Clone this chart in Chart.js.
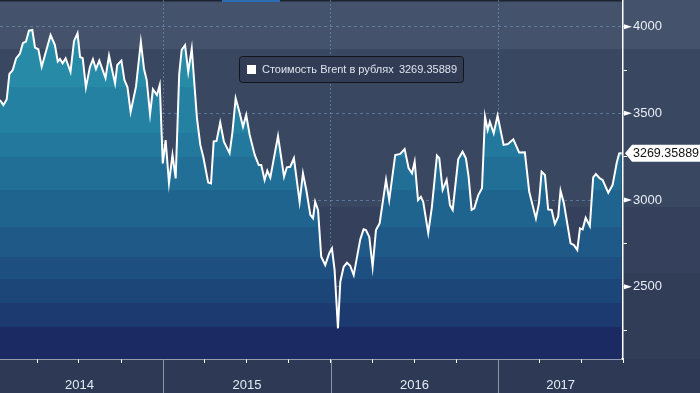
<!DOCTYPE html>
<html>
<head>
<meta charset="utf-8">
<script src="https://cdn.jsdelivr.net/npm/chart.js@4.4.1/dist/chart.umd.min.js"></script>
<style>
  html, body { margin: 0; padding: 0; background: #2e3a55; overflow: hidden; }
</style>
</head>
<body>
<canvas id="brentChart" width="700" height="393"></canvas>
<script>
// Данные: стоимость Brent в рублях (неделя -> дробный год)
const seriesName = "Стоимость Brent в рублях";
const dates = [
  2014.025, 2014.045, 2014.065, 2014.081, 2014.101, 2014.121, 2014.144, 2014.162, 2014.180, 2014.198,
  2014.218, 2014.234, 2014.254, 2014.274, 2014.327, 2014.353, 2014.370, 2014.383, 2014.399, 2014.417,
  2014.446, 2014.467, 2014.488, 2014.503, 2014.519, 2014.538, 2014.562, 2014.580, 2014.598, 2014.618,
  2014.655, 2014.676, 2014.690, 2014.712, 2014.725, 2014.750, 2014.768, 2014.786, 2014.805, 2014.837,
  2014.866, 2014.885, 2014.901, 2014.921, 2014.938, 2014.962, 2014.979, 2014.997, 2015.014, 2015.034,
  2015.055, 2015.074, 2015.095, 2015.110, 2015.130, 2015.149, 2015.170, 2015.201, 2015.221, 2015.239,
  2015.268, 2015.285, 2015.301, 2015.318, 2015.340, 2015.362, 2015.396, 2015.413, 2015.432, 2015.456,
  2015.476, 2015.495, 2015.516, 2015.546, 2015.570, 2015.585, 2015.605, 2015.621, 2015.639, 2015.685,
  2015.721, 2015.738, 2015.758, 2015.780, 2015.814, 2015.834, 2015.854, 2015.878, 2015.894, 2015.907,
  2015.924, 2015.943, 2015.967, 2015.991, 2016.007, 2016.023, 2016.043, 2016.057, 2016.077, 2016.097,
  2016.116, 2016.137, 2016.176, 2016.196, 2016.210, 2016.230, 2016.250, 2016.270, 2016.292, 2016.330,
  2016.349, 2016.385, 2016.415, 2016.441, 2016.465, 2016.485, 2016.501, 2016.521, 2016.538, 2016.552,
  2016.582, 2016.604, 2016.634, 2016.648, 2016.668, 2016.692, 2016.712, 2016.728, 2016.761, 2016.787,
  2016.807, 2016.823, 2016.841, 2016.857, 2016.881, 2016.903, 2016.921, 2016.937, 2016.950, 2016.973,
  2016.996, 2017.032, 2017.058, 2017.090, 2017.125, 2017.159, 2017.185, 2017.225, 2017.243, 2017.259,
  2017.279, 2017.298, 2017.319, 2017.338, 2017.358, 2017.372, 2017.392, 2017.432, 2017.452, 2017.472,
  2017.488, 2017.504, 2017.522, 2017.547, 2017.567, 2017.583, 2017.607, 2017.623, 2017.657, 2017.683,
  2017.707, 2017.722, 2017.737
];
const prices = [
  3577, 3548, 3580, 3727, 3750, 3817, 3845, 3906, 3914, 3977,
  3981, 3879, 3870, 3769, 3952, 3894, 3799, 3814, 3789, 3818,
  3739, 3918, 3962, 3825, 3818, 3650, 3768, 3812, 3756, 3804,
  3704, 3834, 3769, 3673, 3779, 3804, 3692, 3652, 3508, 3654,
  3912, 3756, 3692, 3496, 3639, 3606, 3664, 3211, 3346, 3098,
  3260, 3125, 3727, 3867, 3894, 3740, 3873, 3473, 3318, 3248,
  3101, 3096, 3338, 3341, 3447, 3336, 3270, 3392, 3587, 3502,
  3423, 3491, 3375, 3260, 3202, 3202, 3116, 3169, 3129, 3369,
  3135, 3189, 3192, 3241, 2990, 3154, 3058, 2914, 2895, 2990,
  2943, 2673, 2625, 2693, 2721, 2596, 2260, 2529, 2615, 2638,
  2621, 2567, 2773, 2831, 2827, 2788, 2615, 2827, 2866, 3116,
  3000, 3260, 3266, 3294, 3183, 3154, 3221, 3000, 3019, 2990,
  2811, 2961, 3256, 3241, 3058, 3116, 2971, 2943, 3235, 3279,
  3241, 3135, 2943, 2952, 3029, 3068, 3481, 3404, 3452, 3385,
  3487, 3318, 3323, 3350, 3274, 3275, 3048, 2894, 2981, 3163,
  3144, 2946, 2943, 2862, 2904, 3054, 2981, 2750, 2740, 2712,
  2837, 2831, 2898, 2850, 3131, 3150, 3125, 3116, 3042, 3087,
  3212, 3269, 3269.35889
];
const yearLabels = [2014, 2015, 2016, 2017];
const priceTicks = [2250, 2500, 2750, 3000, 3250, 3500, 3750, 4000];
const lastPrice = prices[prices.length - 1];

const xMin = 2014.025, xMax = 2017.745;

// кварталы как доля года
function yearFrac(y, m) {
  const start = Date.UTC(y, 0, 1);
  return y + (Date.UTC(y, m, 1) - start) / (Date.UTC(y + 1, 0, 1) - start);
}
const quarterTicks = [];
yearLabels.forEach(y => [0, 3, 6, 9].forEach(m => {
  const v = yearFrac(y, m);
  if (v > xMin && v < xMax) quarterTicks.push(v);
}));
quarterTicks.push(xMax);
const isYearStart = v => Math.abs(v - Math.round(v)) < 1e-6;

Chart.defaults.font.family = "'Liberation Sans', Arial, sans-serif";

// полосы фона и заливки
const bgBands = [[0, '#45526b'], [49, '#3a4761'], [207, '#35415c'], [273, '#313c57']];
const fillBands = [
  [0, '#2b91ab'], [48, '#278aa7'], [87, '#2481a2'], [133, '#22789d'], [157, '#216e96'],
  [190, '#1f638f'], [227, '#1e5988'], [257, '#1d4f80'], [279, '#1c4578'], [303, '#1c3a6f'], [327, '#1b2a63']
];

function bandGradient(ctx, area, bands) {
  const h = area.bottom - area.top;
  const g = ctx.createLinearGradient(0, area.top, 0, area.bottom);
  bands.forEach(([y, c], i) => {
    const a = Math.min(1, Math.max(0, (y - area.top) / h));
    const b = i + 1 < bands.length ? Math.min(1, (bands[i + 1][0] - area.top) / h) : 1;
    g.addColorStop(a, c);
    g.addColorStop(b, c);
  });
  return g;
}

const backgroundPlugin = {
  id: 'bands',
  beforeDraw(chart) {
    const { ctx, width, height, chartArea } = chart;
    ctx.save();
    ctx.fillStyle = '#2e3a55';
    ctx.fillRect(0, 0, width, height);
    ctx.fillStyle = bandGradient(ctx, { top: 0, bottom: chartArea.bottom }, bgBands);
    ctx.fillRect(0, 0, width, chartArea.bottom);
    // полоска навигатора сверху
    ctx.fillStyle = '#1d2231';
    ctx.fillRect(0, 0, chartArea.right, 1.5);
    ctx.fillStyle = '#2b6cb3';
    ctx.fillRect(222, 0, 58, 2);
    ctx.restore();
  }
};

const decorPlugin = {
  id: 'decor',
  afterDraw(chart) {
    const { ctx, chartArea, height, width } = chart;
    const xs = chart.scales.x, ys = chart.scales.y;
    ctx.save();

    // разделители лет и подписи
    ctx.strokeStyle = '#8c95a6';
    ctx.lineWidth = 1;
    ctx.fillStyle = '#e4ebf3';
    ctx.font = "13px 'Liberation Sans', Arial, sans-serif";
    ctx.textAlign = 'center';
    ctx.textBaseline = 'middle';
    yearLabels.forEach(y => {
      const p = xs.getPixelForValue(y);
      if (p > chartArea.left + 1 && p < chartArea.right - 1) {
        ctx.beginPath();
        ctx.moveTo(Math.round(p) + 0.5, chartArea.bottom);
        ctx.lineTo(Math.round(p) + 0.5, height);
        ctx.stroke();
      }
      const end = Math.min(xs.getPixelForValue(y + 1), chartArea.right);
      ctx.fillText(String(y), (p + end) / 2, 385);
    });

    // треугольные метки на оси Y
    ctx.fillStyle = '#ffffff';
    priceTicks.filter(v => v % 500 === 0).forEach(v => {
      const py = ys.getPixelForValue(v);
      ctx.beginPath();
      ctx.moveTo(chartArea.right + 1, py - 2.5);
      ctx.lineTo(chartArea.right + 9, py);
      ctx.lineTo(chartArea.right + 1, py + 2.5);
      ctx.closePath();
      ctx.fill();
    });

    // метка последнего значения
    const ly = ys.getPixelForValue(lastPrice);
    const lx = chartArea.right + 2;
    ctx.beginPath();
    ctx.moveTo(lx, ly);
    ctx.lineTo(lx + 7, ly - 8.5);
    ctx.lineTo(width, ly - 8.5);
    ctx.lineTo(width, ly + 8.5);
    ctx.lineTo(lx + 7, ly + 8.5);
    ctx.closePath();
    ctx.fillStyle = '#ffffff';
    ctx.fill();
    ctx.fillStyle = '#111111';
    ctx.textAlign = 'left';
    ctx.font = "12.5px 'Liberation Sans', Arial, sans-serif";
    ctx.fillText(String(lastPrice), lx + 8, ly + 0.5);

    // легенда
    const bx = 239.5, by = 56.5, bw = 224, bh = 26;
    ctx.beginPath();
    ctx.roundRect(bx, by, bw, bh, 3);
    ctx.fillStyle = '#323c55';
    ctx.fill();
    ctx.strokeStyle = '#12151c';
    ctx.lineWidth = 1;
    ctx.stroke();
    ctx.fillStyle = '#ffffff';
    ctx.fillRect(247, 65, 9, 9);
    ctx.fillStyle = '#dde4ee';
    ctx.font = "11px 'Liberation Sans', Arial, sans-serif";
    ctx.textAlign = 'left';
    ctx.fillText(seriesName, 262, 70);
    ctx.textAlign = 'right';
    ctx.fillText(String(lastPrice), 457, 70);

    ctx.restore();
  }
};

const ctx = document.getElementById('brentChart').getContext('2d');
new Chart(ctx, {
  type: 'line',
  data: {
    datasets: [{
      label: seriesName,
      data: dates.map((d, i) => ({ x: d, y: prices[i] })),
      borderColor: '#ffffff',
      borderWidth: 2,
      pointRadius: 0,
      tension: 0,
      fill: 'start',
      backgroundColor: (c) => {
        const area = c.chart.chartArea;
        if (!area) return '#1f638f';
        return bandGradient(c.chart.ctx, area, fillBands);
      }
    }]
  },
  options: {
    responsive: false,
    animation: false,
    devicePixelRatio: 1,
    layout: { padding: 0, autoPadding: false },
    plugins: {
      legend: { display: false },
      tooltip: { enabled: false }
    },
    scales: {
      x: {
        type: 'linear',
        min: xMin,
        max: xMax,
        z: 1,
        afterBuildTicks: s => { s.ticks = quarterTicks.map(v => ({ value: v })); },
        afterFit: s => { s.height = 34; s.paddingLeft = 0; s.paddingRight = 0; },
        ticks: { display: false },
        grid: {
          color: c => (c.tick && isYearStart(c.tick.value)) ? 'rgba(120,165,205,0.5)' : 'rgba(0,0,0,0)',
          lineWidth: 1,
          tickLength: 4,
          tickColor: '#ffffff'
        },
        border: { display: true, color: '#ffffff', width: 1.5, dash: [2, 2] }
      },
      y: {
        type: 'linear',
        position: 'right',
        min: 2083,
        max: 4154,
        z: 1,
        afterBuildTicks: s => { s.ticks = priceTicks.map(v => ({ value: v })); },
        afterFit: s => { s.width = 77; s.paddingTop = 0; s.paddingBottom = 0; },
        ticks: {
          color: '#e8eef6',
          font: { size: 13 },
          padding: 6,
          callback: v => v % 500 === 0 ? String(v) : ''
        },
        grid: {
          color: c => (c.tick && c.tick.value % 500 === 0) ? 'rgba(120,165,205,0.5)' : 'rgba(0,0,0,0)',
          lineWidth: 1,
          tickLength: 4,
          tickColor: '#ffffff'
        },
        border: { display: true, color: '#ffffff', width: 1.5, dash: [3, 3] }
      }
    }
  },
  plugins: [backgroundPlugin, decorPlugin]
});
</script>
</body>
</html>
